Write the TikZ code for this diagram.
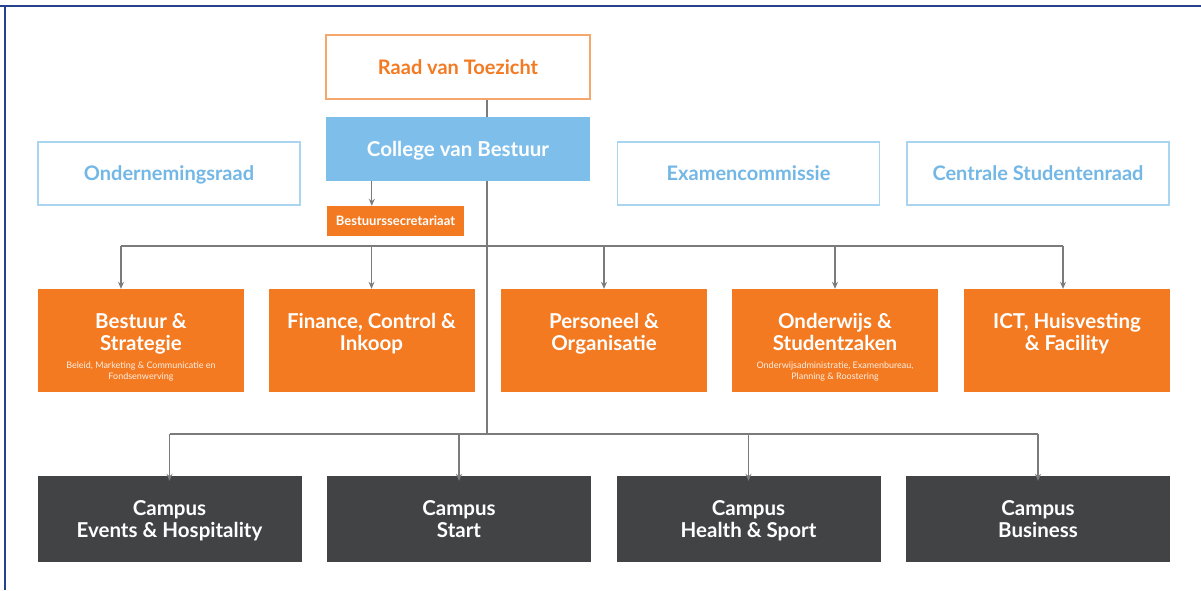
\documentclass[tikz,border=0pt]{standalone}
\usepackage{fontspec}
\setmainfont{Lato}
\usetikzlibrary{arrows.meta,calc}
\definecolor{oranje}{HTML}{F37A21}
\definecolor{donker}{HTML}{414345}
\definecolor{blauw}{HTML}{7DBFEA}
\definecolor{lichtblauw}{HTML}{A9D5F0}
\definecolor{blauwtekst}{HTML}{72B7E5}
\definecolor{raadrand}{HTML}{F5A76C}
\definecolor{lijn}{HTML}{7B7B7B}
\definecolor{kader}{HTML}{24428E}
\tikzset{
  orgbox/.style={rectangle, inner sep=0pt, text depth=0pt, font=\bfseries},
  raad/.style={orgbox, draw=raadrand, line width=1.5pt, fill=white,
    minimum width=264pt, minimum height=64pt, text=oranje, font=\fontsize{20}{22}\selectfont\bfseries},
  bestuur/.style={orgbox, fill=blauw, minimum width=264pt, minimum height=64pt,
    text=white, font=\fontsize{20.5}{22}\selectfont\bfseries},
  inspraak/.style={orgbox, draw=lichtblauw, line width=1.2pt, fill=white,
    minimum width=262pt, minimum height=63pt, text=blauwtekst, font=\fontsize{20}{22}\selectfont\bfseries},
  secretariaat/.style={orgbox, fill=oranje, minimum width=137pt, minimum height=30pt,
    text=white, font=\fontsize{13}{15}\selectfont\bfseries},
  dienst/.style={orgbox, fill=oranje, minimum width=206pt, minimum height=103pt},
  campus/.style={orgbox, fill=donker, minimum width=264pt, minimum height=86pt},
  dtitel/.style={align=center, text=white, inner sep=0pt, font=\fontsize{20.5}{22}\selectfont\bfseries,
    execute at begin node=\strut, execute at end node=\strut},
  dsub/.style={align=center, text=white!88!oranje, inner sep=0pt, font=\fontsize{9}{11}\selectfont},
  verbinding/.style={draw=lijn, line width=1.2pt},
  pijl/.style={verbinding, -{Stealth[length=7pt,width=6pt]}}
}
\begin{document}
\begin{tikzpicture}[x=1pt,y=-1pt]
\useasboundingbox (0,0) rectangle (1201,590);
% kader
\draw[kader, line width=1.5pt] (0,6) -- (1201,6);
\draw[kader, line width=1.2pt] (5,6) -- (5,590);

% top
\node[raad] (rvt) at (458,67) {Raad van Toezicht};
\node[bestuur] (cvb) at (458,149) {College van Bestuur};
\node[inspraak] (or) at (169,173.5) {Ondernemingsraad};
\node[inspraak] (ec) at (748.5,173.5) {Examencommissie};
\node[inspraak] (csr) at (1038,173.5) {Centrale Studentenraad};
\node[secretariaat] (bsec) at (395.5,221) {Bestuurssecretariaat};

% diensten
\node[dienst] (bs) at (141,340.5) {};
\node[dienst] (fci) at (371.5,340.5) {};
\node[dienst] (po) at (604,340.5) {};
\node[dienst] (os) at (835,340.5) {};
\node[dienst] (ict) at (1067,340.5) {};
\node[dtitel] (bst) at ([yshift=-46pt]bs.north) {Bestuur \&\\Strategie};
\node[dsub, anchor=north] at ([yshift=-5pt]bst.south) {Beleid, Marketing \& Communicatie en\\Fondsenwerving};
\node[dtitel] at ([yshift=-46pt]fci.north) {Finance, Control \&\\Inkoop};
\node[dtitel] at ([yshift=-46pt]po.north) {Personeel \&\\Organisatie};
\node[dtitel] (ost) at ([yshift=-46pt]os.north) {Onderwijs \&\\Studentzaken};
\node[dsub, anchor=north] at ([yshift=-5pt]ost.south) {Onderwijsadministratie, Examenbureau,\\Planning \& Roostering};
\node[dtitel] at ([yshift=-46pt]ict.north) {ICT, Huisvesting\\\& Facility};

% campussen
\node[campus] (ceh) at (169.5,519) {};
\node[campus] (cst) at (459,519) {};
\node[campus] (chs) at (748.5,519) {};
\node[campus] (cbu) at (1038,519) {};
\node[dtitel] at ([yshift=-46.5pt]ceh.north) {Campus\\Events \& Hospitality};
\node[dtitel] at ([yshift=-46.5pt]cst.north) {Campus\\Start};
\node[dtitel] at ([yshift=-46.5pt]chs.north) {Campus\\Health \& Sport};
\node[dtitel] at ([yshift=-46.5pt]cbu.north) {Campus\\Business};

% verbindingen
\coordinate (stam) at (487,434);
\coordinate (tak) at (121,246);
\draw[verbinding] (rvt.south -| stam) -- (cvb.north -| stam);
\draw[verbinding] (cvb.south -| stam) -- (stam);
\draw[pijl] (cvb.south -| bsec.north west) ++(45pt,0) coordinate (s) -- (s |- bsec.north);
\draw[verbinding] (tak) -- ++(942pt,0);
\draw[pijl] (tak) -- (tak |- bs.north);
\foreach \n in {fci,po,os}
  \draw[pijl] (tak -| \n.north) -- (\n.north);
\draw[pijl] ($(tak -| ict.north)+(-4pt,0)$) -- ($(ict.north)+(-4pt,0)$);
\draw[verbinding] (stam -| ceh.north) -- (stam -| cbu.north);
\foreach \n in {ceh,cst,chs,cbu}
  \draw[pijl] (stam -| \n.north) -- ([yshift=-5pt]\n.north);
\end{tikzpicture}
\end{document}
